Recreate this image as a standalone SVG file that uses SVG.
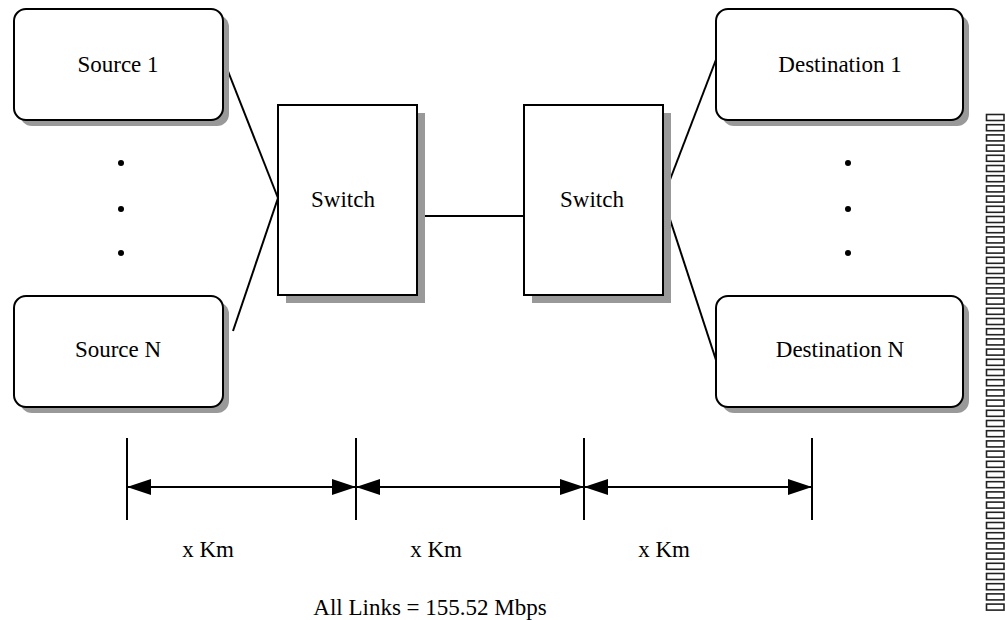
<svg xmlns="http://www.w3.org/2000/svg" width="1005" height="620" viewBox="0 0 1005 620">
<style>
.box{fill:#fff;stroke:#000;stroke-width:2}
.sh{fill:#999}
.t{font-family:'Liberation Serif','Times New Roman',serif;font-size:23px;fill:#000;text-anchor:middle}
.ln{stroke:#000;stroke-width:2;fill:none}
.tofu{fill:#fff;stroke:#222;stroke-width:1.6}
</style>
<defs>
<marker id="ah" viewBox="0 0 24 16" refX="24" refY="8" markerWidth="24" markerHeight="16" markerUnits="userSpaceOnUse" orient="auto-start-reverse">
<path d="M0,0 L24,8 L0,16 Z" fill="#000"/>
</marker>
</defs>
<rect width="1005" height="620" fill="#fff"/>
<g id="connectors">
<line class="ln" x1="222" y1="56" x2="278" y2="198"/>
<line class="ln" x1="233" y1="331" x2="278" y2="198"/>
<line class="ln" x1="417" y1="216" x2="524" y2="216"/>
<line class="ln" x1="663" y1="198" x2="717" y2="57"/>
<line class="ln" x1="663" y1="198" x2="716" y2="360"/>
</g>
<g id="source1">
<rect class="sh" x="20" y="15" width="209" height="111" rx="12"/>
<rect class="box" x="14" y="9" width="209" height="111" rx="12"/>
<text class="t" x="118" y="72">Source 1</text>
</g>
<g id="sourceN">
<rect class="sh" x="20" y="302" width="209" height="111" rx="12"/>
<rect class="box" x="14" y="296" width="209" height="111" rx="12"/>
<text class="t" x="118" y="357">Source N</text>
</g>
<g id="dots-left">
<circle cx="121" cy="163" r="3"/>
<circle cx="121" cy="209" r="3"/>
<circle cx="121" cy="253" r="3"/>
</g>
<g id="switch1">
<rect class="sh" x="286" y="113" width="139" height="190"/>
<rect class="box" x="278" y="105" width="139" height="190"/>
<text class="t" x="343" y="207">Switch</text>
</g>
<g id="switch2">
<rect class="sh" x="532" y="113" width="139" height="190"/>
<rect class="box" x="524" y="105" width="139" height="190"/>
<text class="t" x="592" y="207">Switch</text>
</g>
<g id="dest1">
<rect class="sh" x="722" y="15" width="247" height="111" rx="12"/>
<rect class="box" x="716" y="9" width="247" height="111" rx="12"/>
<text class="t" x="840" y="72">Destination 1</text>
</g>
<g id="destN">
<rect class="sh" x="722" y="302" width="247" height="111" rx="12"/>
<rect class="box" x="716" y="296" width="247" height="111" rx="12"/>
<text class="t" x="840" y="357">Destination N</text>
</g>
<g id="dots-right">
<circle cx="848" cy="163" r="3"/>
<circle cx="848" cy="209" r="3"/>
<circle cx="848" cy="253" r="3"/>
</g>
<g id="dimensions">
<line class="ln" x1="127" y1="438" x2="127" y2="520"/>
<line class="ln" x1="356" y1="438" x2="356" y2="520"/>
<line class="ln" x1="584" y1="438" x2="584" y2="520"/>
<line class="ln" x1="812" y1="438" x2="812" y2="520"/>
<line class="ln" x1="127" y1="487" x2="356" y2="487" marker-start="url(#ah)" marker-end="url(#ah)"/>
<line class="ln" x1="356" y1="487" x2="584" y2="487" marker-start="url(#ah)" marker-end="url(#ah)"/>
<line class="ln" x1="584" y1="487" x2="812" y2="487" marker-start="url(#ah)" marker-end="url(#ah)"/>
<text class="t" x="208" y="557">x Km</text>
<text class="t" x="436" y="557">x Km</text>
<text class="t" x="664" y="557">x Km</text>
<text class="t" x="430" y="615">All Links = 155.52 Mbps</text>
</g>
<g id="tofu-column">
<rect class="tofu" x="986.5" y="114.5" width="17.5" height="6"/>
<rect class="tofu" x="986.5" y="124.7" width="17.5" height="6"/>
<rect class="tofu" x="986.5" y="134.9" width="17.5" height="6"/>
<rect class="tofu" x="986.5" y="145.1" width="17.5" height="6"/>
<rect class="tofu" x="986.5" y="155.3" width="17.5" height="6"/>
<rect class="tofu" x="986.5" y="165.5" width="17.5" height="6"/>
<rect class="tofu" x="986.5" y="175.7" width="17.5" height="6"/>
<rect class="tofu" x="986.5" y="185.9" width="17.5" height="6"/>
<rect class="tofu" x="986.5" y="196.1" width="17.5" height="6"/>
<rect class="tofu" x="986.5" y="206.3" width="17.5" height="6"/>
<rect class="tofu" x="986.5" y="216.5" width="17.5" height="6"/>
<rect class="tofu" x="986.5" y="226.7" width="17.5" height="6"/>
<rect class="tofu" x="986.5" y="236.9" width="17.5" height="6"/>
<rect class="tofu" x="986.5" y="247.1" width="17.5" height="6"/>
<rect class="tofu" x="986.5" y="257.3" width="17.5" height="6"/>
<rect class="tofu" x="986.5" y="267.5" width="17.5" height="6"/>
<rect class="tofu" x="986.5" y="277.7" width="17.5" height="6"/>
<rect class="tofu" x="986.5" y="287.9" width="17.5" height="6"/>
<rect class="tofu" x="986.5" y="298.1" width="17.5" height="6"/>
<rect class="tofu" x="986.5" y="308.3" width="17.5" height="6"/>
<rect class="tofu" x="986.5" y="318.5" width="17.5" height="6"/>
<rect class="tofu" x="986.5" y="328.7" width="17.5" height="6"/>
<rect class="tofu" x="986.5" y="338.9" width="17.5" height="6"/>
<rect class="tofu" x="986.5" y="349.1" width="17.5" height="6"/>
<rect class="tofu" x="986.5" y="359.3" width="17.5" height="6"/>
<rect class="tofu" x="986.5" y="369.5" width="17.5" height="6"/>
<rect class="tofu" x="986.5" y="379.7" width="17.5" height="6"/>
<rect class="tofu" x="986.5" y="389.9" width="17.5" height="6"/>
<rect class="tofu" x="986.5" y="400.1" width="17.5" height="6"/>
<rect class="tofu" x="986.5" y="410.3" width="17.5" height="6"/>
<rect class="tofu" x="986.5" y="420.5" width="17.5" height="6"/>
<rect class="tofu" x="986.5" y="430.7" width="17.5" height="6"/>
<rect class="tofu" x="986.5" y="440.9" width="17.5" height="6"/>
<rect class="tofu" x="986.5" y="451.1" width="17.5" height="6"/>
<rect class="tofu" x="986.5" y="461.3" width="17.5" height="6"/>
<rect class="tofu" x="986.5" y="471.5" width="17.5" height="6"/>
<rect class="tofu" x="986.5" y="481.7" width="17.5" height="6"/>
<rect class="tofu" x="986.5" y="491.9" width="17.5" height="6"/>
<rect class="tofu" x="986.5" y="502.1" width="17.5" height="6"/>
<rect class="tofu" x="986.5" y="512.3" width="17.5" height="6"/>
<rect class="tofu" x="986.5" y="522.5" width="17.5" height="6"/>
<rect class="tofu" x="986.5" y="532.7" width="17.5" height="6"/>
<rect class="tofu" x="986.5" y="542.9" width="17.5" height="6"/>
<rect class="tofu" x="986.5" y="553.1" width="17.5" height="6"/>
<rect class="tofu" x="986.5" y="563.3" width="17.5" height="6"/>
<rect class="tofu" x="986.5" y="573.5" width="17.5" height="6"/>
<rect class="tofu" x="986.5" y="583.7" width="17.5" height="6"/>
<rect class="tofu" x="986.5" y="593.9" width="17.5" height="6"/>
<rect class="tofu" x="986.5" y="604.1" width="17.5" height="6"/>
</g>
</svg>
